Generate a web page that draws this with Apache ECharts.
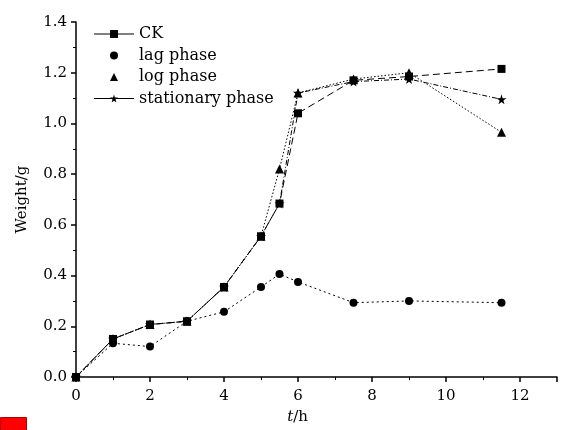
<!DOCTYPE html>
<html>
<head>
<meta charset="utf-8">
<script src="https://cdn.jsdelivr.net/npm/echarts@6/dist/echarts.min.js"></script>
<style>
  html, body { margin: 0; padding: 0; background: #fff; }
  #main { width: 565px; height: 430px; }
</style>
</head>
<body>
<div id="main"></div>
<script>
// 数据
var times = [0, 1, 2, 3, 4, 5, 5.5, 6, 7.5, 9, 11.5];
var ck = [0, 0.15, 0.207, 0.22, 0.355, 0.555, 0.684, 1.04, 1.17, 1.185, 1.215];
var lag = [0, 0.133, 0.12, 0.22, 0.257, 0.355, 0.406, 0.375, 0.293, 0.30, 0.293];
var logPhase = [0, 0.15, 0.207, 0.22, 0.355, 0.555, 0.82, 1.12, 1.175, 1.20, 0.965];
var stationary = [0, 0.15, 0.207, 0.22, 0.355, 0.555, 0.684, 1.12, 1.165, 1.175, 1.095];
var xTicks = [0, 2, 4, 6, 8, 10, 12];

var starPath = 'path://M50,0 L61,35 L98,35 L68,57 L79,91 L50,70 L21,91 L32,57 L2,35 L39,35 Z';
var font = 'DejaVu Serif';

function pairs(vals) {
    var out = [];
    for (var i = 0; i < times.length; i++) {
        out.push([times[i], vals[i]]);
    }
    return out;
}

var chart = echarts.init(document.getElementById('main'));
chart.setOption({
    animation: false,
    textStyle: { fontFamily: font, color: '#000' },
    grid: { left: 76, right: 8, top: 22, bottom: 50 },
    legend: {
        orient: 'vertical',
        left: 88,
        top: 21,
        itemWidth: 40,
        itemHeight: 10,
        itemGap: 5.5,
        itemTextGap: 2,
        textStyle: { fontFamily: font, fontSize: 16, color: '#000' },
        data: [
            { name: 'CK', lineStyle: { type: 'solid', width: 1 } },
            { name: 'lag phase', lineStyle: { opacity: 0 } },
            { name: 'log phase', lineStyle: { opacity: 0 } },
            { name: 'stationary phase', lineStyle: { type: 'solid', width: 1 } }
        ]
    },
    xAxis: {
        type: 'value',
        min: 0,
        max: 13,
        interval: 2,
        name: '{i|t}/h',
        nameLocation: 'middle',
        nameGap: 33,
        nameTextStyle: {
            fontFamily: font, fontSize: 15, color: '#000',
            padding: [0, 38, 0, 0],
            rich: { i: { fontFamily: font, fontSize: 15, fontStyle: 'italic' } }
        },
        splitLine: { show: false },
        axisLine: { lineStyle: { color: '#000', width: 1.5 } },
        axisTick: { inside: false, length: 5, lineStyle: { color: '#000', width: 1.5 } },
        minorTick: { show: true, splitNumber: 2, length: 3, lineStyle: { color: '#000' } },
        axisLabel: {
            color: '#000', fontFamily: font, fontSize: 15, margin: 12,
            formatter: function (v) { return xTicks.indexOf(v) >= 0 ? String(v) : ''; }
        }
    },
    yAxis: {
        type: 'value',
        min: 0,
        max: 1.4,
        interval: 0.2,
        name: 'Weight/g',
        nameLocation: 'middle',
        nameGap: 46,
        nameTextStyle: { fontFamily: font, fontSize: 15, color: '#000' },
        splitLine: { show: false },
        axisLine: { show: true, lineStyle: { color: '#000', width: 1.5 } },
        axisTick: { show: true, inside: false, length: 5, lineStyle: { color: '#000', width: 1.5 } },
        minorTick: { show: true, splitNumber: 2, length: 3, lineStyle: { color: '#000' } },
        axisLabel: {
            color: '#000', fontFamily: font, fontSize: 15, margin: 9,
            formatter: function (v) { return v.toFixed(1); }
        }
    },
    graphic: [
        { type: 'rect', left: 0, top: 417, shape: { width: 26, height: 13 },
          style: { fill: '#ff0000', stroke: '#b00000', lineWidth: 1 } }
    ],
    series: [
        {
            name: 'stationary phase', type: 'line', z: 2,
            data: pairs(stationary),
            symbol: starPath, symbolSize: 10,
            itemStyle: { color: '#000' },
            lineStyle: { color: '#000', width: 1, type: [5, 2, 1, 2] }
        },
        {
            name: 'log phase', type: 'line', z: 3,
            data: pairs(logPhase),
            symbol: 'triangle', symbolSize: 9,
            itemStyle: { color: '#000' },
            lineStyle: { color: '#000', width: 1, type: [1.5, 2] }
        },
        {
            name: 'lag phase', type: 'line', z: 4,
            data: pairs(lag),
            symbol: 'circle', symbolSize: 8,
            itemStyle: { color: '#000' },
            lineStyle: { color: '#000', width: 1, type: [2, 3] }
        },
        {
            name: 'CK', type: 'line', z: 5,
            data: pairs(ck),
            symbol: 'rect', symbolSize: 8,
            itemStyle: { color: '#000' },
            lineStyle: { color: '#000', width: 1, type: [7, 4] }
        }
    ]
});
</script>
</body>
</html>
